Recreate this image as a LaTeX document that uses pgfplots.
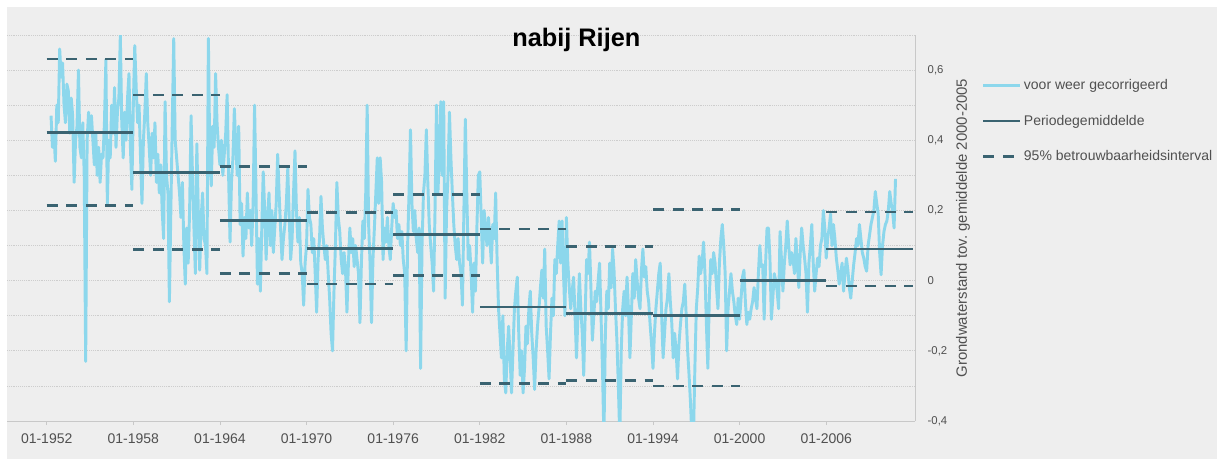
\documentclass[border=0pt]{standalone}
\usepackage{pgfplots}
\pgfplotsset{compat=1.18}
\usepackage{fontspec}
\setmainfont{Liberation Sans}
\definecolor{bg}{RGB}{238,238,238}
\definecolor{serie}{RGB}{140,215,236}
\definecolor{dark}{RGB}{58,99,113}
\definecolor{gridc}{RGB}{205,205,205}
\definecolor{axisc}{RGB}{200,200,200}
\definecolor{txt}{RGB}{80,80,80}
\begin{document}
\begin{tikzpicture}
\useasboundingbox (0,0) rectangle (915pt,-345.75pt);
\fill[white] (0,0) rectangle (915pt,-345.75pt);
\fill[bg] (5.25pt,-5.25pt) rectangle (913pt,-344.5pt);
\begin{axis}[
  at={(5.25pt,-26.25pt)}, anchor=north west,
  scale only axis, width=681pt, height=289.5pt,
  xmin=1949.25, xmax=2012.15, ymin=-0.4, ymax=0.7,
  axis x line*=bottom, axis y line*=right,
  axis line style={-, draw=axisc, line width=0.6pt},
  x axis line style={-}, y axis line style={-},
  unbounded coords=jump,
  xtick={1952,1958,1964,1970,1976,1982,1988,1994,2000,2006},
  xticklabels={01-1952,01-1958,01-1964,01-1970,01-1976,01-1982,01-1988,01-1994,01-2000,01-2006},
  ytick={-0.4,-0.2,0,0.2,0.4,0.6},
  yticklabels={{-0,4},{-0,2},0,{0,2},{0,4},{0,6}},
  minor ytick={-0.3,-0.1,0.1,0.3,0.5,0.7},
  ymajorgrids, yminorgrids,
  major grid style={densely dotted, gridc, line width=0.6pt},
  minor grid style={densely dotted, gridc, line width=0.6pt},
  tick align=outside,
  major tick length=3pt, minor tick length=0pt,
  xtick style={draw=axisc, line width=0.6pt},
  ytick style={draw=none},
  xticklabel style={font=\fontsize{10.5}{12}\selectfont, text=txt, yshift=-3pt},
  yticklabel style={font=\fontsize{8.5}{10}\selectfont, text=txt, anchor=west, xshift=3pt},
  every axis y label/.style={at={(rel axis cs:1.0529,0.5)}, rotate=90, anchor=center},
  ylabel={Grondwaterstand tov.\ gemiddelde 2000-2005},
  ylabel style={font=\fontsize{11.2}{13}\selectfont, text=txt},
  title={nabij Rijen},
  title style={at={(0.627,1)}, anchor=north, yshift=-1pt, inner sep=0pt, font=\fontsize{19}{22}\selectfont\bfseries},
  legend style={at={(1.0735,0.891)}, anchor=north west, draw=none, fill=none,
    font=\fontsize{10.5}{12}\selectfont, text=txt, inner sep=0pt, row sep=14.6pt,
    nodes={inner sep=1.5pt}},
  legend cell align=left,
  legend image code/.code={\draw[#1] (0pt,0pt) -- (27.75pt,0pt);},
]
\addplot[serie, line width=2.2pt, line join=round] coordinates {
(1952.3,0.47)(1952.4,0.38)(1952.5,0.42)(1952.6,0.34)(1952.7,0.50)(1952.8,0.45)(1952.9,0.66)
(1953.0,0.58)(1953.1,0.62)(1953.2,0.50)(1953.3,0.45)(1953.4,0.56)(1953.5,0.54)(1953.6,0.42)(1953.7,0.52)(1953.8,0.47)(1953.9,0.28)
(1954.0,0.40)(1954.1,0.44)(1954.2,0.60)(1954.3,0.38)(1954.4,0.35)(1954.5,0.45)(1954.6,0.30)(1954.7,-0.23)(1954.8,0.40)(1954.9,0.48)
(1955.0,0.43)(1955.1,0.47)(1955.2,0.40)(1955.3,0.33)(1955.4,0.42)(1955.5,0.30)(1955.6,0.38)(1955.7,0.28)(1955.8,0.36)(1955.9,0.35)
(1956.0,0.45)(1956.1,0.63)(1956.2,0.22)(1956.3,0.40)(1956.4,0.35)(1956.5,0.50)(1956.6,0.42)(1956.7,0.55)(1956.8,0.38)(1956.9,0.48)
(1957.0,0.52)(1957.1,0.70)(1957.2,0.45)(1957.3,0.35)(1957.4,0.48)(1957.5,0.40)(1957.6,0.52)(1957.7,0.59)(1957.8,0.38)(1957.9,0.26)
(1958.0,0.50)(1958.1,0.67)(1958.2,0.55)(1958.3,0.45)(1958.4,0.50)(1958.5,0.35)(1958.6,0.22)(1958.7,0.40)(1958.8,0.48)(1958.9,0.59)
(1959.0,0.45)(1959.1,0.38)(1959.2,0.30)(1959.3,0.42)(1959.4,0.35)(1959.5,0.45)(1959.6,0.28)(1959.7,0.36)(1959.8,0.25)(1959.9,0.33)
(1960.0,0.20)(1960.1,0.12)(1960.2,0.51)(1960.3,0.30)(1960.4,0.25)(1960.5,-0.06)(1960.6,0.20)(1960.7,0.45)(1960.8,0.69)(1960.9,0.40)
(1961.0,0.35)(1961.1,0.30)(1961.2,0.25)(1961.3,0.18)(1961.4,0.28)(1961.5,0.10)(1961.6,-0.01)(1961.7,0.15)(1961.8,0.05)(1961.9,0.20)
(1962.0,0.47)(1962.1,0.30)(1962.2,0.15)(1962.3,0.02)(1962.4,0.39)(1962.5,0.20)(1962.6,0.03)(1962.7,0.18)(1962.8,0.25)(1962.9,0.12)
(1963.0,0.10)(1963.1,0.02)(1963.2,0.69)(1963.3,0.35)(1963.4,0.27)(1963.5,0.44)(1963.6,0.38)(1963.7,0.59)(1963.8,0.45)(1963.9,0.38)
(1964.0,0.33)(1964.1,0.40)(1964.2,0.30)(1964.3,0.36)(1964.4,0.42)(1964.5,0.53)(1964.6,0.30)(1964.7,0.11)(1964.8,0.28)(1964.9,0.35)
(1965.0,0.49)(1965.1,0.38)(1965.2,0.30)(1965.3,0.44)(1965.4,0.16)(1965.5,0.22)(1965.6,0.07)(1965.7,0.18)(1965.8,0.12)(1965.9,0.25)
(1966.0,0.15)(1966.1,0.20)(1966.2,0.10)(1966.3,0.22)(1966.4,0.50)(1966.5,0.25)(1966.6,-0.01)(1966.7,0.12)(1966.8,-0.03)(1966.9,0.15)
(1967.0,0.31)(1967.1,0.20)(1967.2,0.06)(1967.3,0.18)(1967.4,0.25)(1967.5,0.10)(1967.6,0.20)(1967.7,0.08)(1967.8,0.15)(1967.9,0.22)
(1968.0,0.36)(1968.1,0.25)(1968.2,0.15)(1968.3,0.06)(1968.4,0.12)(1968.5,0.16)(1968.6,0.22)(1968.7,0.32)(1968.8,0.18)(1968.9,0.06)
(1969.0,0.12)(1969.1,0.25)(1969.2,0.37)(1969.3,0.20)(1969.4,0.11)(1969.5,0.18)(1969.6,0.05)(1969.7,0.02)(1969.8,-0.07)(1969.9,0.05)
(1970.0,0.10)(1970.1,0.26)(1970.2,0.18)(1970.3,0.16)(1970.4,0.08)(1970.5,0.12)(1970.6,0.02)(1970.7,-0.09)(1970.8,0.06)(1970.9,0.12)
(1971.0,0.24)(1971.1,0.15)(1971.2,0.10)(1971.3,0.06)(1971.4,0.10)(1971.5,0.02)(1971.6,-0.05)(1971.7,-0.15)(1971.8,-0.20)(1971.9,-0.03)
(1972.0,0.10)(1972.1,0.28)(1972.2,0.18)(1972.3,0.14)(1972.4,0.06)(1972.5,0.02)(1972.6,0.08)(1972.7,0.03)(1972.8,-0.09)(1972.9,0.05)
(1973.0,0.15)(1973.1,0.08)(1973.2,0.12)(1973.3,0.04)(1973.4,0.10)(1973.5,0.06)(1973.6,0.02)(1973.7,-0.12)(1973.8,0.05)(1973.9,0.17)
(1974.0,0.12)(1974.1,0.25)(1974.2,0.50)(1974.3,0.16)(1974.4,0.05)(1974.5,-0.12)(1974.6,0.06)(1974.7,0.15)(1974.8,0.25)(1974.9,0.35)
(1975.0,0.22)(1975.1,0.35)(1975.2,0.28)(1975.3,0.06)(1975.4,0.15)(1975.5,0.11)(1975.6,0.18)(1975.7,0.10)(1975.8,0.06)(1975.9,0.15)
(1976.0,0.22)(1976.1,0.18)(1976.2,0.20)(1976.3,0.12)(1976.4,0.16)(1976.5,0.10)(1976.6,0.14)(1976.7,0.06)(1976.8,0.02)(1976.9,-0.20)
(1977.0,0.10)(1977.1,0.25)(1977.2,0.43)(1977.3,0.22)(1977.4,0.14)(1977.5,0.20)(1977.6,0.12)(1977.7,0.08)(1977.8,0.15)(1977.9,-0.25)
(1978.0,0.10)(1978.1,0.25)(1978.2,0.30)(1978.3,0.43)(1978.4,0.28)(1978.5,0.16)(1978.6,0.10)(1978.7,0.05)(1978.8,-0.03)(1978.9,0.20)
(1979.0,0.50)(1979.1,0.25)(1979.2,0.35)(1979.3,0.51)(1979.4,0.30)(1979.5,0.51)(1979.6,-0.05)(1979.7,0.20)(1979.8,0.30)(1979.9,0.48)
(1980.0,0.35)(1980.1,0.25)(1980.2,0.16)(1980.3,0.10)(1980.4,0.06)(1980.5,0.12)(1980.6,0.05)(1980.7,0.02)(1980.8,-0.07)(1980.9,0.20)
(1981.0,0.46)(1981.1,0.25)(1981.2,0.06)(1981.3,0.10)(1981.4,0.02)(1981.5,-0.09)(1981.6,0.05)(1981.7,-0.03)(1981.8,0.15)(1981.9,0.30)
(1982.0,0.31)(1982.1,0.18)(1982.2,0.05)(1982.3,0.20)(1982.4,0.15)(1982.5,0.10)(1982.6,0.18)(1982.7,0.12)(1982.8,0.05)(1982.9,0.16)
(1983.0,0.12)(1983.1,0.25)(1983.2,0.06)(1983.3,-0.08)(1983.4,-0.15)(1983.5,-0.22)(1983.6,-0.10)(1983.7,-0.28)(1983.8,-0.32)(1983.9,-0.20)
(1984.0,-0.13)(1984.1,-0.22)(1984.2,-0.32)(1984.3,-0.20)(1984.4,-0.08)(1984.5,-0.03)(1984.6,0.01)(1984.7,-0.15)(1984.8,-0.27)(1984.9,-0.20)
(1985.0,-0.32)(1985.1,-0.25)(1985.2,-0.13)(1985.3,-0.18)(1985.4,-0.08)(1985.5,-0.03)(1985.6,-0.15)(1985.7,-0.22)(1985.8,-0.31)(1985.9,-0.20)
(1986.0,-0.13)(1986.1,-0.08)(1986.2,-0.02)(1986.3,0.03)(1986.4,-0.05)(1986.5,0.09)(1986.6,-0.13)(1986.7,-0.20)(1986.8,-0.28)(1986.9,-0.15)
(1987.0,-0.05)(1987.1,-0.10)(1987.2,0.06)(1987.3,0.02)(1987.4,0.10)(1987.5,0.17)(1987.6,0.05)(1987.7,0.17)(1987.8,0.02)(1987.9,-0.10)
(1988.0,0.18)(1988.1,0.05)(1988.2,-0.02)(1988.3,-0.08)(1988.4,-0.03)(1988.5,0.01)(1988.6,-0.10)(1988.7,-0.22)(1988.8,-0.10)(1988.9,0.02)
(1989.0,-0.08)(1989.1,-0.15)(1989.2,-0.27)(1989.3,-0.10)(1989.4,0.06)(1989.5,0.02)(1989.6,0.11)(1989.7,-0.02)(1989.8,-0.17)(1989.9,-0.10)
(1990.0,-0.03)(1990.1,-0.06)(1990.2,0.00)(1990.3,0.05)(1990.4,-0.10)(1990.5,-0.25)(1990.6,-0.45)(1990.7,-0.15)(1990.8,-0.03)(1990.9,-0.08)
(1991.0,0.05)(1991.1,-0.02)(1991.2,0.09)(1991.3,0.03)(1991.4,-0.08)(1991.5,-0.17)(1991.6,-0.30)(1991.7,-0.45)(1991.8,-0.20)(1991.9,-0.08)
(1992.0,-0.03)(1992.1,-0.10)(1992.2,0.01)(1992.3,-0.08)(1992.4,-0.22)(1992.5,-0.10)(1992.6,0.02)(1992.7,-0.05)(1992.8,0.06)(1992.9,0.00)
(1993.0,-0.05)(1993.1,-0.08)(1993.2,0.03)(1993.3,0.09)(1993.4,0.01)(1993.5,0.04)(1993.6,-0.03)(1993.7,-0.06)(1993.8,-0.125)(1993.9,-0.18)
(1994.0,-0.25)(1994.1,-0.15)(1994.2,-0.08)(1994.3,-0.03)(1994.4,0.02)(1994.5,0.05)(1994.6,-0.10)(1994.7,-0.22)(1994.8,-0.15)(1994.9,-0.08)
(1995.0,-0.05)(1995.1,0.02)(1995.2,-0.06)(1995.3,-0.12)(1995.4,-0.22)(1995.5,-0.15)(1995.6,-0.20)(1995.7,-0.28)(1995.8,-0.18)(1995.9,-0.125)
(1996.0,-0.08)(1996.1,-0.06)(1996.2,-0.01)(1996.3,-0.10)(1996.4,-0.20)(1996.5,-0.27)(1996.6,-0.35)(1996.7,-0.45)(1996.8,-0.45)(1996.9,-0.25)
(1997.0,-0.08)(1997.1,-0.02)(1997.2,0.07)(1997.3,0.02)(1997.4,0.05)(1997.5,0.11)(1997.6,0.02)(1997.7,-0.125)(1997.8,-0.25)(1997.9,-0.05)
(1998.0,0.06)(1998.1,0.02)(1998.2,0.08)(1998.3,0.05)(1998.4,-0.02)(1998.5,-0.08)(1998.6,0.05)(1998.7,0.12)(1998.8,0.16)(1998.9,0.10)
(1999.0,0.02)(1999.1,-0.20)(1999.2,-0.08)(1999.3,-0.03)(1999.4,0.02)(1999.5,-0.03)(1999.6,-0.06)(1999.7,-0.10)(1999.8,-0.125)(1999.9,-0.05)
(2000.0,-0.11)(2000.1,-0.05)(2000.2,0.01)(2000.3,0.03)(2000.4,-0.06)(2000.5,-0.125)(2000.6,-0.09)(2000.7,-0.11)(2000.8,-0.08)(2000.9,-0.06)
(2001.0,-0.02)(2001.1,-0.05)(2001.2,-0.08)(2001.3,0.02)(2001.4,0.10)(2001.5,0.04)(2001.6,0.045)(2001.7,-0.11)(2001.8,0.05)(2001.9,0.15)
(2002.0,0.15)(2002.1,0.064)(2002.2,-0.11)(2002.3,-0.05)(2002.4,0.02)(2002.5,0.00)(2002.6,-0.03)(2002.7,-0.08)(2002.8,0.14)(2002.9,0.06)
(2003.0,-0.03)(2003.1,0.05)(2003.2,0.10)(2003.3,0.17)(2003.4,0.10)(2003.5,0.045)(2003.6,0.08)(2003.7,0.064)(2003.8,0.02)(2003.9,0.12)
(2004.0,0.05)(2004.1,-0.02)(2004.2,0.08)(2004.3,0.15)(2004.4,0.10)(2004.5,0.064)(2004.6,0.02)(2004.7,-0.09)(2004.8,0.05)(2004.9,0.10)
(2005.0,0.16)(2005.1,0.05)(2005.2,-0.03)(2005.3,0.02)(2005.4,0.064)(2005.5,0.04)(2005.6,0.10)(2005.7,0.12)(2005.8,0.20)(2005.9,0.15)
(2006.0,0.064)(2006.1,0.12)(2006.2,0.15)(2006.3,0.19)(2006.4,0.10)(2006.5,0.16)(2006.6,0.12)(2006.7,0.064)(2006.8,0.03)(2006.9,-0.01)
(2007.0,0.02)(2007.1,0.05)(2007.2,-0.03)(2007.3,0.02)(2007.4,0.064)(2007.5,0.03)(2007.6,-0.02)(2007.7,-0.05)(2007.8,0.00)(2007.9,0.045)
(2008.0,0.08)(2008.1,0.12)(2008.2,0.10)(2008.3,0.16)(2008.4,0.12)(2008.5,0.08)(2008.6,0.064)(2008.7,0.04)(2008.8,0.027)(2008.9,0.10)
(2009.0,0.13)(2009.1,0.16)(2009.2,0.18)(2009.3,0.20)(2009.4,0.254)(2009.5,0.22)(2009.6,0.19)(2009.7,0.08)(2009.8,0.017)(2009.9,0.10)
(2010.0,0.14)(2010.1,0.16)(2010.2,0.17)(2010.3,0.20)(2010.4,0.254)(2010.5,0.22)(2010.6,0.197)(2010.7,0.15)(2010.8,0.29)
};
\addlegendentry{voor weer gecorrigeerd}
\addplot[dark, line width=2pt] coordinates {
(1952,0.423)(1958,0.423)(1958,nan)
(1958,0.308)(1964,0.308)(1964,nan)
(1964,0.172)(1970,0.172)(1970,nan)
(1970,0.092)(1976,0.092)(1976,nan)
(1976,0.131)(1982,0.131)(1982,nan)
(1982,-0.075)(1988,-0.075)(1988,nan)
(1988,-0.093)(1994,-0.093)(1994,nan)
(1994,-0.100)(2000,-0.100)(2000,nan)
(2000,0.000)(2006,0.000)(2006,nan)
(2006,0.090)(2012,0.090)
};
\addlegendentry{Periodegemiddelde}
\addplot[dark, line width=2pt, dash pattern=on 8.25pt off 6.4pt] coordinates {
(1952,0.632)(1958,0.632)(1958,nan)
(1958,0.529)(1964,0.529)(1964,nan)
(1964,0.325)(1970,0.325)(1970,nan)
(1970,0.194)(1976,0.194)(1976,nan)
(1976,0.245)(1982,0.245)(1982,nan)
(1982,0.147)(1988,0.147)(1988,nan)
(1988,0.097)(1994,0.097)(1994,nan)
(1994,0.202)(2000,0.202)(2000,nan)
(2006,0.196)(2012,0.196)(2012,nan)
(1952,0.214)(1958,0.214)(1958,nan)
(1958,0.088)(1964,0.088)(1964,nan)
(1964,0.020)(1970,0.020)(1970,nan)
(1970,-0.010)(1976,-0.010)(1976,nan)
(1976,0.015)(1982,0.015)(1982,nan)
(1982,-0.293)(1988,-0.293)(1988,nan)
(1988,-0.284)(1994,-0.284)(1994,nan)
(1994,-0.300)(2000,-0.300)(2000,nan)
(2006,-0.015)(2012,-0.015)
};
\addlegendentry{95\% betrouwbaarheidsinterval}
\end{axis}
\end{tikzpicture}
\end{document}
